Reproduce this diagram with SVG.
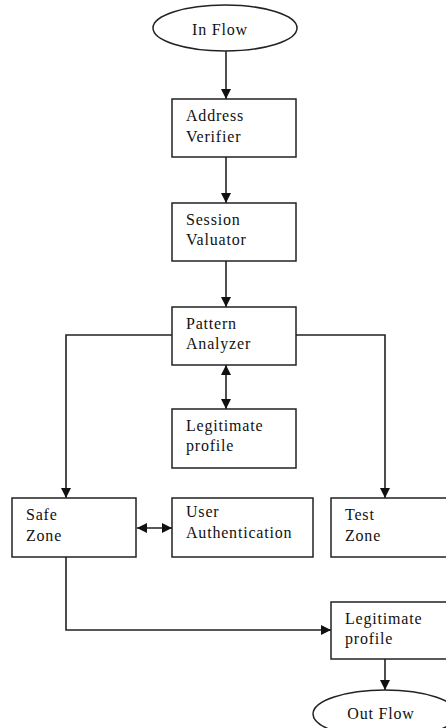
<svg xmlns="http://www.w3.org/2000/svg" width="446" height="728" viewBox="0 0 446 728">
<style>
.box{fill:#fff;stroke:#222;stroke-width:1.5}
.t{font-family:"Liberation Serif","Times New Roman",serif;font-size:16px;fill:#111;letter-spacing:0.8px}
.c{fill:none;stroke:#222;stroke-width:1.6}
</style>
<defs>
<marker id="ah" viewBox="0 0 10 10" refX="10" refY="5" markerWidth="10" markerHeight="11" markerUnits="userSpaceOnUse" orient="auto-start-reverse">
<path d="M0,0 L10,5 L0,10 Z" fill="#111"/>
</marker>
</defs>
<rect width="446" height="728" fill="#fff"/>
<g id="connectors">
<line class="c" x1="226" y1="51" x2="226" y2="99" marker-end="url(#ah)"/>
<line class="c" x1="226" y1="157" x2="226" y2="203" marker-end="url(#ah)"/>
<line class="c" x1="226" y1="261" x2="226" y2="307" marker-end="url(#ah)"/>
<line class="c" x1="226" y1="365" x2="226" y2="409" marker-start="url(#ah)" marker-end="url(#ah)"/>
<polyline class="c" points="172,335 66,335 66,498" marker-end="url(#ah)"/>
<polyline class="c" points="296,335 385,335 385,498" marker-end="url(#ah)"/>
<line class="c" x1="137" y1="528" x2="172" y2="528" marker-start="url(#ah)" marker-end="url(#ah)"/>
<polyline class="c" points="66,557 66,630 331,630" marker-end="url(#ah)"/>
<line class="c" x1="385" y1="659" x2="385" y2="690" marker-end="url(#ah)"/>
</g>
<g id="inflow">
<ellipse class="box" cx="225" cy="28" rx="72" ry="23"/>
<text class="t" x="220" y="35" text-anchor="middle">In Flow</text>
</g>
<g id="address-verifier">
<rect class="box" x="172" y="99" width="124" height="58"/>
<text class="t" x="186" y="121">Address</text>
<text class="t" x="186" y="142">Verifier</text>
</g>
<g id="session-valuator">
<rect class="box" x="172" y="203" width="124" height="58"/>
<text class="t" x="186" y="225">Session</text>
<text class="t" x="186" y="245">Valuator</text>
</g>
<g id="pattern-analyzer">
<rect class="box" x="172" y="307" width="124" height="58"/>
<text class="t" x="186" y="329">Pattern</text>
<text class="t" x="186" y="349">Analyzer</text>
</g>
<g id="legitimate-profile-1">
<rect class="box" x="172" y="409" width="124" height="59"/>
<text class="t" x="186" y="431">Legitimate</text>
<text class="t" x="186" y="451">profile</text>
</g>
<g id="safe-zone">
<rect class="box" x="12" y="498" width="124" height="59"/>
<text class="t" x="26" y="520">Safe</text>
<text class="t" x="26" y="541">Zone</text>
</g>
<g id="user-authentication">
<rect class="box" x="172" y="498" width="141" height="59"/>
<text class="t" x="186" y="517">User</text>
<text class="t" x="186" y="538">Authentication</text>
</g>
<g id="test-zone">
<rect class="box" x="331" y="498" width="124" height="59"/>
<text class="t" x="345" y="520">Test</text>
<text class="t" x="345" y="541">Zone</text>
</g>
<g id="legitimate-profile-2">
<rect class="box" x="331" y="602" width="124" height="57"/>
<text class="t" x="345" y="624">Legitimate</text>
<text class="t" x="345" y="644">profile</text>
</g>
<g id="outflow">
<ellipse class="box" cx="385" cy="714" rx="72" ry="24"/>
<text class="t" x="381" y="719" text-anchor="middle">Out Flow</text>
</g>
</svg>
